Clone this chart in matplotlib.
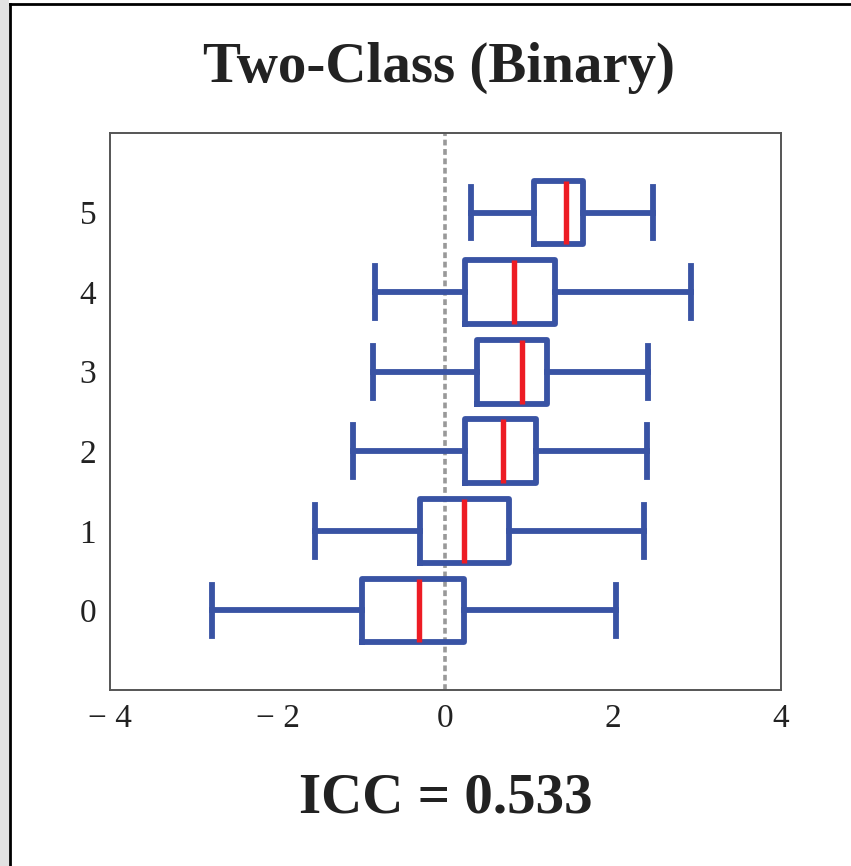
import matplotlib.pyplot as plt
from matplotlib.patches import Rectangle
from matplotlib.lines import Line2D

# values (one box per class 0..5)
classes = [0, 1, 2, 3, 4, 5]
whislo = [-2.79, -1.56, -1.10, -0.86, -0.84, 0.31]
q1 = [-0.99, -0.30, 0.23, 0.38, 0.23, 1.06]
med = [-0.32, 0.22, 0.69, 0.91, 0.82, 1.44]
q3 = [0.22, 0.76, 1.08, 1.21, 1.31, 1.64]
whishi = [2.03, 2.37, 2.40, 2.42, 2.93, 2.48]
xticks = [-4, -2, 0, 2, 4]
title = 'Two-Class (Binary)'
icc = 0.533

blue = '#3953a4'
red = '#ed1c24'

plt.rcParams['font.family'] = ['Liberation Serif', 'DejaVu Serif']

fig = plt.figure(figsize=(8.51, 8.66), dpi=100)
ax = fig.add_axes([0.1293, 0.2032, 0.7884, 0.6432])

stats = [dict(whislo=a, q1=b, med=c, q3=d, whishi=e, label=str(k), fliers=[])
         for a, b, c, d, e, k in zip(whislo, q1, med, q3, whishi, classes)]

lw = 4.2
ax.bxp(stats, positions=classes, vert=False, widths=0.8, capwidths=0.65,
       showfliers=False,
       boxprops=dict(color=blue, linewidth=lw),
       whiskerprops=dict(color=blue, linewidth=lw),
       capprops=dict(color=blue, linewidth=lw),
       medianprops=dict(color=red, linewidth=3.9))

ax.axvline(0, color='#999999', linestyle=(0, (1.6, 1.0)), linewidth=2.6, zorder=0)

ax.set_xlim(-4, 4)
ax.set_ylim(-1, 6)
ax.set_xticks(xticks)
ax.set_xticklabels(['\u2212 4' if v == -4 else ('\u2212 2' if v == -2 else str(v)) for v in xticks])
ax.set_yticks(classes)
ax.set_yticklabels([str(c) for c in classes])
ax.tick_params(length=0, labelsize=24, pad=10, labelcolor='#222222')
for s in ax.spines.values():
    s.set_color('#555555')
    s.set_linewidth(1.4)

fig.text(0.516, 0.905, title, ha='center', va='baseline', fontsize=41, fontweight='bold',
         color='#222222')
fig.text(0.524, 0.062, 'ICC = %.3f' % icc, ha='center', va='baseline', fontsize=41,
         fontweight='bold', color='#222222')

# page frame: grey strip on the left, black line on left and top
fig.patches.append(Rectangle((0, 0), 9 / 851, 1, transform=fig.transFigure,
                             facecolor='#e2e2e2', edgecolor='none'))
fig.lines.append(Line2D([10 / 851, 10 / 851], [0, 1 - 4 / 866], transform=fig.transFigure,
                        color='black', linewidth=2))
fig.lines.append(Line2D([10 / 851, 1], [1 - 4 / 866, 1 - 4 / 866], transform=fig.transFigure,
                        color='black', linewidth=2))

plt.savefig('out.png', dpi=100)
